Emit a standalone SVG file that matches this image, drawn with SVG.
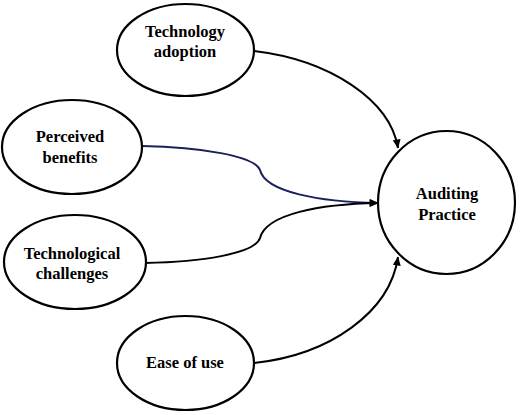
<svg xmlns="http://www.w3.org/2000/svg" width="520" height="415" viewBox="0 0 520 415">
<defs>
<style>
.node{fill:#fff;stroke:#000;stroke-width:2.2}
.lbl{font-family:"Liberation Serif","Times New Roman",serif;font-weight:bold;font-size:16.5px;fill:#000;text-anchor:middle}
.edge{fill:none;stroke:#000;stroke-width:2}
.blue{stroke:#1a1f5c}
</style>
<marker id="arr" markerWidth="9" markerHeight="8" refX="8.5" refY="4" orient="auto" markerUnits="userSpaceOnUse">
<path d="M0,0 L9,4 L0,8 Z" fill="#000"/>
</marker>
</defs>
<rect width="520" height="415" fill="#fff"/>
<g id="connectors">
<path class="edge" d="M254,51 C330,60 390,100 398,148" marker-end="url(#arr)"/>
<path class="edge blue" d="M142,146 C200,147 255,156 260,170 C265,192 320,202 378,203" marker-end="url(#arr)"/>
<path class="edge" d="M145,263 C200,262 255,254 260,238 C266,214 320,204 378,203" marker-end="url(#arr)"/>
<path class="edge" d="M254,363 C330,355 390,312 398,257" marker-end="url(#arr)"/>
</g>
<g id="technology-adoption">
<ellipse class="node" cx="185.5" cy="50" rx="68.5" ry="46"/>
<text class="lbl" x="185" y="37">Technology</text>
<text class="lbl" x="185" y="57">adoption</text>
</g>
<g id="perceived-benefits">
<ellipse class="node" cx="72" cy="147" rx="70" ry="47"/>
<text class="lbl" x="70" y="142">Perceived</text>
<text class="lbl" x="70" y="163">benefits</text>
</g>
<g id="technological-challenges">
<ellipse class="node" cx="75" cy="262" rx="71" ry="47"/>
<text class="lbl" x="72" y="259">Technological</text>
<text class="lbl" x="72" y="279">challenges</text>
</g>
<g id="ease-of-use">
<ellipse class="node" cx="185.5" cy="363" rx="68.5" ry="47"/>
<text class="lbl" x="185" y="368">Ease of use</text>
</g>
<g id="auditing-practice">
<ellipse class="node" cx="446.5" cy="202.5" rx="68.5" ry="71.5"/>
<text class="lbl" x="447" y="199">Auditing</text>
<text class="lbl" x="447" y="220">Practice</text>
</g>
</svg>
